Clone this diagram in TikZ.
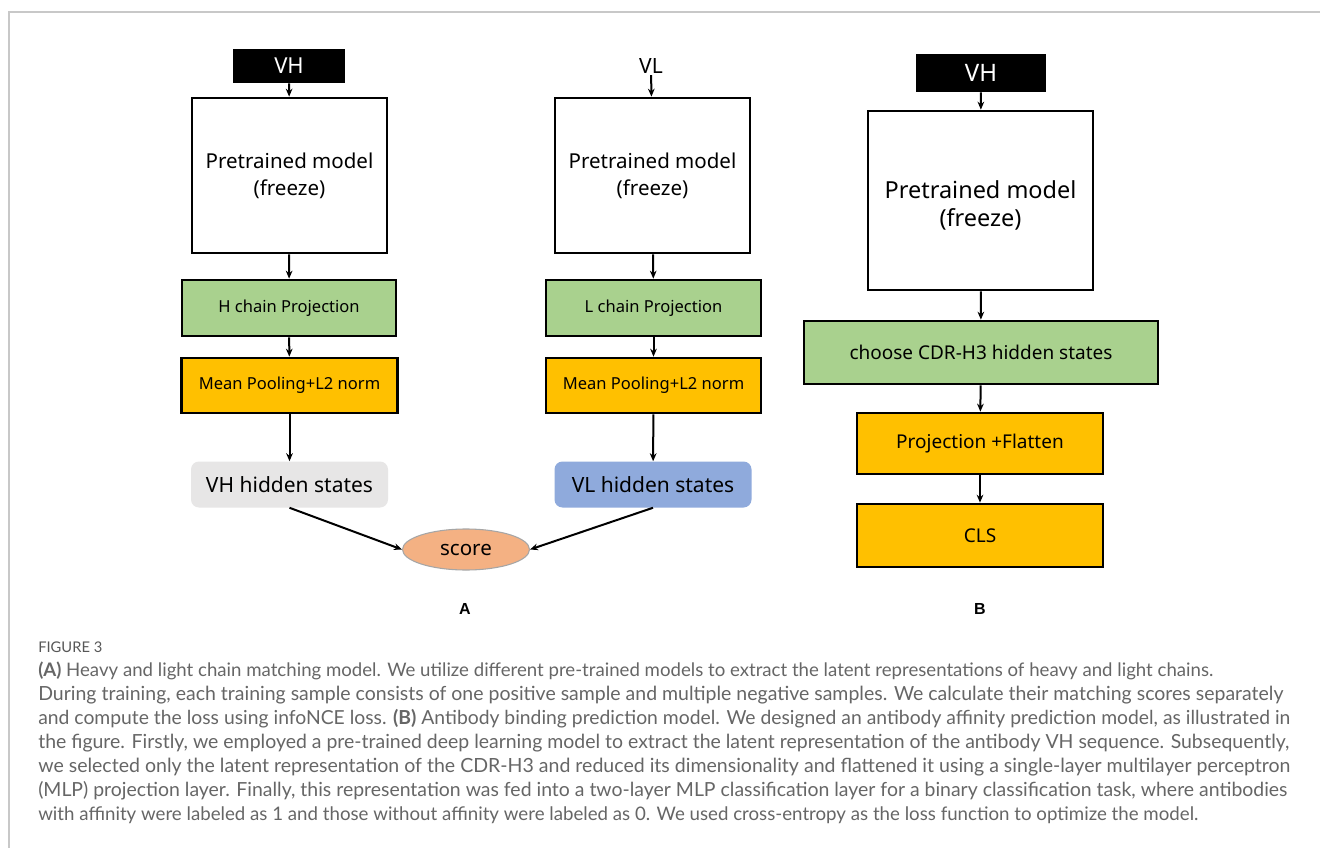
\documentclass[tikz,border=0pt]{standalone}
\usepackage{graphicx}
\usepackage{fontspec}
\setmainfont{Noto Sans}
\newfontfamily\capfont{Lato}
\newfontfamily\labfont{Liberation Sans}
\usetikzlibrary{arrows.meta,shapes.geometric}
\definecolor{gfill}{HTML}{A9D18E}
\definecolor{ofill}{HTML}{FFC000}
\definecolor{hgray}{HTML}{E7E6E6}
\definecolor{hblue}{HTML}{8FAADC}
\definecolor{salmon}{HTML}{F4B183}
\definecolor{framec}{HTML}{C8C8C8}
\definecolor{capc}{HTML}{666666}
\newcommand{\fs}[1]{\fontsize{#1pt}{#1pt}\selectfont}
\newcommand{\capline}[2]{\resizebox{#1pt}{!}{#2}}
\begin{document}
\begin{tikzpicture}[x=0.75pt,y=-0.75pt,
  box/.style={draw=black,line width=2pt,inner sep=0pt,align=center},
  pmbox/.style={box,fill=white},
  green/.style={box,fill=gfill},
  orange/.style={box,fill=ofill},
  inbox/.style={fill=black,text=white,inner sep=0pt},
  hid/.style={rounded corners=6pt,inner sep=0pt},
  arr/.style={line width=1.5pt,-{Stealth[length=6pt,width=5pt]}},
  capl/.style={anchor=base west,inner sep=0pt,text=capc,font=\capfont\fontsize{13.6pt}{16pt}\selectfont}
]
\useasboundingbox (0,0) rectangle (1320,848);
\fill[white] (0,0) rectangle (1320,848);
\draw[framec,line width=1.1pt] (9,848) -- (9,12) -- (1320,12);

% ---------- Panel A, left column
\node[inbox,minimum width=84pt,minimum height=25.5pt,font=\fs{16.5}] (vh1) at (289,66) {VH};
\node[pmbox,minimum width=146.25pt,minimum height=116.25pt,font=\fontsize{15.4pt}{20pt}\selectfont] (pm1) at (289.5,175.5) {Pretrained model\\(freeze)};
\node[green,minimum width=160.5pt,minimum height=42pt,font=\fs{12.4}] (hp) at (289,308) {H chain Projection};
\node[orange,minimum width=162pt,minimum height=41.25pt,font=\fs{12.4}] (mp1) at (289.5,385.5) {Mean Pooling+L2 norm};
\node[hid,fill=hgray,minimum width=147.75pt,minimum height=34.5pt,font=\fs{15.75}] (vhh) at (289.5,484.5) {VH hidden states};

% ---------- Panel A, right column
\node[inner sep=1pt,font=\fs{15.75}] (vl) at (651,66) {VL};
\node[pmbox,minimum width=146.25pt,minimum height=116.25pt,font=\fontsize{15.4pt}{20pt}\selectfont] (pm2) at (652.5,175.5) {Pretrained model\\(freeze)};
\node[green,minimum width=161.25pt,minimum height=42pt,font=\fs{12.4}] (lp) at (653.5,308) {L chain Projection};
\node[orange,minimum width=161.25pt,minimum height=41.25pt,font=\fs{12.4}] (mp2) at (653.5,385.5) {Mean Pooling+L2 norm};
\node[hid,fill=hblue,minimum width=147.75pt,minimum height=34.5pt,font=\fs{15.75}] (vlh) at (653,484.5) {VL hidden states};

\node[ellipse,draw=gray!70,line width=0.8pt,fill=salmon,minimum width=95.25pt,minimum height=30.75pt,inner sep=0pt,font=\fs{15.4}] (score) at (466,549.5) {score};

\node[font=\labfont\bfseries\fs{12}] (la) at (465,609) {A};

\draw[arr] (vh1) -- (pm1);
\draw[arr] (pm1) -- (hp);
\draw[arr] (hp) -- (mp1);
\draw[arr] (mp1) -- (vhh);
\draw[arr] (vl) -- (pm2);
\draw[arr] (pm2) -- (lp);
\draw[arr] (lp) -- (mp2);
\draw[arr] (mp2) -- (vlh);
\draw[arr] (vhh.south) -- (score.west);
\draw[arr] (vlh.south) -- (score.east);

% ---------- Panel B
\node[inbox,minimum width=97.5pt,minimum height=28.5pt,font=\fs{18}] (vh3) at (981,73) {VH};
\node[pmbox,minimum width=168.75pt,minimum height=134.25pt] (pm3) at (980.5,200.5) {};
\node[align=center,inner sep=0pt,font=\fontsize{17.6pt}{21pt}\selectfont] (pm3t) at (980.5,205) {Pretrained model\\(freeze)};
\node[green,minimum width=265.5pt,minimum height=47.25pt,font=\fs{14.25}] (cdr) at (981,352.5) {choose CDR-H3 hidden states};
\node[orange,minimum width=184.5pt,minimum height=45.75pt,font=\fs{14.25}] (pf) at (980,443.5) {Projection +Flatten};
\node[orange,minimum width=184.5pt,minimum height=47.25pt,font=\fs{14.25}] (cls) at (980,535.5) {CLS};
\node[font=\labfont\bfseries\fs{12}] (lb) at (980,609) {B};

\draw[arr] (vh3) -- (pm3);
\draw[arr] (pm3) -- (cdr);
\draw[arr] (cdr) -- (pf);
\draw[arr] (pf) -- (cls);

% ---------- Caption
\node[capl,text=capc!85!black] (c0) at (38,652) {\capline{48}{FIGURE 3}};
\node[capl] (c1) at (38,676) {\capline{881.25}{\textbf{(A)} Heavy and light chain matching model. We utilize different pre-trained models to extract the latent representations of heavy and light chains.}};
\node[capl] (c2) at (38,700) {\capline{933.75}{During training, each training sample consists of one positive sample and multiple negative samples. We calculate their matching scores separately}};
\node[capl] (c3) at (38,724) {\capline{939}{and compute the loss using infoNCE loss. \textbf{(B)} Antibody binding prediction model. We designed an antibody affinity prediction model, as illustrated in}};
\node[capl] (c4) at (38,748) {\capline{938.25}{the figure. Firstly, we employed a pre-trained deep learning model to extract the latent representation of the antibody VH sequence. Subsequently,}};
\node[capl] (c5) at (38,772) {\capline{939}{we selected only the latent representation of the CDR-H3 and reduced its dimensionality and flattened it using a single-layer multilayer perceptron}};
\node[capl] (c6) at (38,796) {\capline{936.75}{(MLP) projection layer. Finally, this representation was fed into a two-layer MLP classification layer for a binary classification task, where antibodies}};
\node[capl] (c7) at (38,820) {\capline{870}{with affinity were labeled as 1 and those without affinity were labeled as 0. We used cross-entropy as the loss function to optimize the model.}};
\end{tikzpicture}
\end{document}
